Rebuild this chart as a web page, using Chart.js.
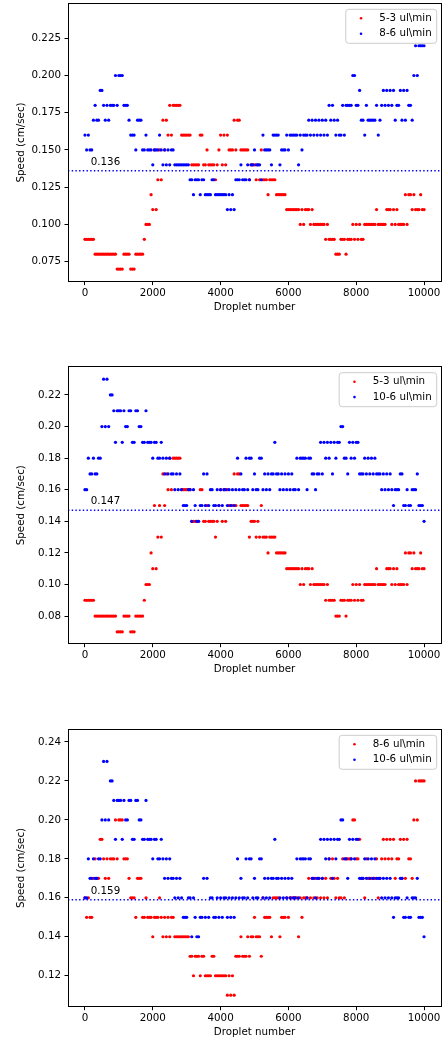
<!DOCTYPE html>
<html>
<head>
<meta charset="utf-8">
<title>Droplet speed</title>
<script src="https://cdn.jsdelivr.net/npm/chart.js@4.4.0/dist/chart.umd.min.js"></script>
<style>
  html, body { margin: 0; padding: 0; background: #fff; }
  body { width: 445px; height: 1040px; position: relative; overflow: hidden; }
  canvas { position: absolute; left: 0; }
</style>
</head>
<body>
<canvas id="panel1" width="445" height="330" style="top:-10px"></canvas>
<canvas id="panel2" width="445" height="345" style="top:340px"></canvas>
<canvas id="panel3" width="445" height="336" style="top:704px"></canvas>
<script>
// one sample every 50 droplets, 0 .. 10000
const dropletStep = 50;
const dropletTicks = [0, 2000, 4000, 6000, 8000, 10000];

const label53 = '5-3 ul\\min';
const label86 = '8-6 ul\\min';
const label106 = '10-6 ul\\min';

const speed53 = [
    0.09, 0.09, 0.09, 0.09, 0.09, 0.09, 0.08, 0.08, 0.08, 0.08, 0.08, 0.08, 0.08, 0.08, 0.08, 0.08, 0.08, 0.08, 0.08, 0.07,
    0.07, 0.07, 0.07, 0.08, 0.08, 0.08, 0.08, 0.07, 0.07, 0.07, 0.08, 0.08, 0.08, 0.08, 0.08, 0.09, 0.10, 0.10, 0.10, 0.12,
    0.11, 0.15, 0.11, 0.13, 0.15, 0.13, 0.17, 0.15, 0.17, 0.16, 0.18, 0.16, 0.18, 0.18, 0.18, 0.18, 0.18, 0.16, 0.16, 0.16,
    0.16, 0.16, 0.16, 0.14, 0.14, 0.14, 0.14, 0.14, 0.16, 0.16, 0.14, 0.14, 0.15, 0.14, 0.14, 0.14, 0.14, 0.13, 0.14, 0.15,
    0.16, 0.14, 0.16, 0.14, 0.16, 0.15, 0.15, 0.15, 0.17, 0.15, 0.17, 0.17, 0.15, 0.15, 0.15, 0.15, 0.15, 0.13, 0.14, 0.14,
    0.14, 0.13, 0.14, 0.13, 0.15, 0.13, 0.13, 0.13, 0.12, 0.13, 0.13, 0.13, 0.13, 0.12, 0.12, 0.12, 0.12, 0.12, 0.12, 0.11,
    0.11, 0.11, 0.11, 0.11, 0.11, 0.11, 0.11, 0.10, 0.11, 0.10, 0.11, 0.11, 0.11, 0.10, 0.11, 0.10, 0.10, 0.10, 0.10, 0.10,
    0.10, 0.10, 0.09, 0.10, 0.09, 0.09, 0.09, 0.09, 0.08, 0.08, 0.08, 0.09, 0.09, 0.09, 0.08, 0.09, 0.09, 0.09, 0.10, 0.09,
    0.10, 0.09, 0.10, 0.09, 0.09, 0.10, 0.10, 0.10, 0.10, 0.10, 0.10, 0.10, 0.11, 0.10, 0.10, 0.10, 0.10, 0.10, 0.11, 0.11,
    0.11, 0.10, 0.11, 0.10, 0.11, 0.10, 0.10, 0.10, 0.10, 0.12, 0.10, 0.12, 0.12, 0.11, 0.12, 0.11, 0.11, 0.11, 0.12, 0.11, 0.11
];

const speed86 = [
    0.16, 0.15, 0.16, 0.15, 0.15, 0.17, 0.18, 0.17, 0.17, 0.19, 0.19, 0.18, 0.17, 0.18, 0.17, 0.18, 0.18, 0.18, 0.20, 0.18,
    0.20, 0.20, 0.20, 0.18, 0.18, 0.18, 0.17, 0.16, 0.16, 0.16, 0.15, 0.17, 0.17, 0.17, 0.15, 0.15, 0.16, 0.15, 0.15, 0.15,
    0.14, 0.15, 0.15, 0.15, 0.16, 0.15, 0.14, 0.15, 0.14, 0.15, 0.14, 0.15, 0.15, 0.14, 0.14, 0.14, 0.14, 0.14, 0.14, 0.14,
    0.14, 0.14, 0.13, 0.13, 0.12, 0.13, 0.13, 0.13, 0.12, 0.13, 0.13, 0.12, 0.12, 0.12, 0.12, 0.13, 0.13, 0.12, 0.12, 0.12,
    0.12, 0.12, 0.12, 0.12, 0.11, 0.12, 0.11, 0.12, 0.11, 0.13, 0.13, 0.13, 0.14, 0.13, 0.13, 0.13, 0.14, 0.13, 0.14, 0.14,
    0.15, 0.14, 0.14, 0.14, 0.13, 0.16, 0.15, 0.15, 0.15, 0.15, 0.14, 0.16, 0.16, 0.16, 0.16, 0.14, 0.15, 0.15, 0.15, 0.16,
    0.15, 0.16, 0.16, 0.16, 0.16, 0.16, 0.14, 0.16, 0.15, 0.16, 0.16, 0.16, 0.17, 0.16, 0.17, 0.16, 0.17, 0.16, 0.17, 0.16,
    0.17, 0.16, 0.17, 0.16, 0.18, 0.17, 0.18, 0.17, 0.16, 0.17, 0.16, 0.16, 0.18, 0.16, 0.18, 0.18, 0.18, 0.18, 0.20, 0.20,
    0.18, 0.18, 0.19, 0.17, 0.17, 0.16, 0.18, 0.17, 0.17, 0.17, 0.17, 0.17, 0.18, 0.16, 0.17, 0.18, 0.19, 0.18, 0.19, 0.18,
    0.19, 0.18, 0.19, 0.17, 0.18, 0.18, 0.19, 0.17, 0.19, 0.17, 0.19, 0.18, 0.18, 0.17, 0.20, 0.22, 0.20, 0.22, 0.22, 0.22, 0.22
];

const speed106 = [
    0.16, 0.16, 0.18, 0.17, 0.17, 0.18, 0.17, 0.17, 0.18, 0.18, 0.20, 0.23, 0.20, 0.23, 0.20, 0.22, 0.22, 0.21, 0.19, 0.21,
    0.21, 0.21, 0.19, 0.21, 0.20, 0.20, 0.21, 0.21, 0.19, 0.19, 0.21, 0.21, 0.20, 0.20, 0.19, 0.19, 0.21, 0.19, 0.19, 0.19,
    0.18, 0.19, 0.19, 0.18, 0.18, 0.19, 0.18, 0.17, 0.18, 0.17, 0.18, 0.17, 0.17, 0.16, 0.17, 0.16, 0.17, 0.16, 0.15, 0.15,
    0.15, 0.16, 0.16, 0.14, 0.16, 0.15, 0.14, 0.14, 0.15, 0.15, 0.17, 0.15, 0.17, 0.15, 0.16, 0.16, 0.15, 0.15, 0.16, 0.15,
    0.16, 0.15, 0.16, 0.16, 0.15, 0.16, 0.15, 0.16, 0.15, 0.16, 0.18, 0.16, 0.17, 0.16, 0.16, 0.18, 0.16, 0.18, 0.18, 0.16,
    0.17, 0.16, 0.16, 0.18, 0.18, 0.16, 0.17, 0.16, 0.17, 0.16, 0.17, 0.17, 0.19, 0.17, 0.17, 0.16, 0.17, 0.16, 0.17, 0.16,
    0.17, 0.16, 0.17, 0.16, 0.16, 0.18, 0.16, 0.18, 0.18, 0.18, 0.18, 0.16, 0.18, 0.18, 0.17, 0.17, 0.16, 0.17, 0.17, 0.19,
    0.17, 0.19, 0.18, 0.19, 0.18, 0.19, 0.17, 0.19, 0.18, 0.19, 0.19, 0.20, 0.20, 0.18, 0.18, 0.17, 0.19, 0.18, 0.19, 0.18,
    0.19, 0.19, 0.17, 0.17, 0.17, 0.18, 0.17, 0.18, 0.17, 0.18, 0.17, 0.18, 0.17, 0.17, 0.17, 0.16, 0.17, 0.16, 0.17, 0.16,
    0.17, 0.16, 0.15, 0.16, 0.16, 0.16, 0.17, 0.17, 0.15, 0.15, 0.16, 0.15, 0.15, 0.16, 0.16, 0.16, 0.17, 0.15, 0.15, 0.15, 0.14
];

const meanSpeeds = [0.136, 0.147, 0.159];

const yTicks1 = [0.075, 0.100, 0.125, 0.150, 0.175, 0.200, 0.225];
const yTicks2 = [0.08, 0.10, 0.12, 0.14, 0.16, 0.18, 0.20, 0.22];
const yTicks3 = [0.12, 0.14, 0.16, 0.18, 0.20, 0.22, 0.24];

const fontFamily = '"DejaVu Sans", "Liberation Sans", sans-serif';
const fontSize = 10.3;
const xAxisHeight = 33;
const meanLabelDroplet = 170;

// top/bottom = plot box edges inside each canvas
const panels = [
    { id: 'panel1', red: speed53, blue: speed86, redLabel: label53, blueLabel: label86, mean: meanSpeeds[0],
      ticks: yTicks1, decimals: 3, yMin: 0.0616, yMax: 0.2485, top: 13.3, bottom: 291.6 },
    { id: 'panel2', red: speed53, blue: speed106, redLabel: label53, blueLabel: label106, mean: meanSpeeds[1],
      ticks: yTicks2, decimals: 2, yMin: 0.0625, yMax: 0.2379, top: 26.7, bottom: 303.7 },
    { id: 'panel3', red: speed86, blue: speed106, redLabel: label86, blueLabel: label106, mean: meanSpeeds[2],
      ticks: yTicks3, decimals: 2, yMin: 0.1041, yMax: 0.2465, top: 25.3, bottom: 302.7 }
];

function toPoints(values) {
    return values.map((v, i) => ({ x: i * dropletStep, y: v }));
}

function meanAndFramePlugin(mean) {
    return {
        id: 'meanAndFrame',
        afterDatasetsDraw(chart) {
            const { ctx, chartArea } = chart;
            const y = chart.scales.y.getPixelForValue(mean);
            ctx.save();
            ctx.beginPath();
            ctx.strokeStyle = '#0000ff';
            ctx.lineWidth = 1.4;
            ctx.setLineDash([1.4, 2.3]);
            ctx.moveTo(chartArea.left, y);
            ctx.lineTo(chartArea.right, y);
            ctx.stroke();
            ctx.setLineDash([]);

            ctx.font = `${fontSize}px ${fontFamily}`;
            ctx.fillStyle = '#000';
            ctx.textAlign = 'left';
            ctx.textBaseline = 'middle';
            ctx.fillText(mean.toFixed(3), chart.scales.x.getPixelForValue(meanLabelDroplet), y - 8.7);

            // matplotlib style box around the plot
            const l = Math.floor(chartArea.left) + 0.5;
            const t = Math.floor(chartArea.top) + 0.5;
            const r = Math.floor(chartArea.right) + 0.5;
            const b = Math.floor(chartArea.bottom) + 0.5;
            ctx.strokeStyle = '#000';
            ctx.lineWidth = 1;
            ctx.strokeRect(l, t, r - l, b - t);
            ctx.restore();
        }
    };
}

const boxLegend = {
    id: 'boxLegend',
    afterDraw(chart) {
        const { ctx, chartArea } = chart;
        const items = chart.data.datasets.map((ds) => ({ text: ds.label, color: ds.backgroundColor }));
        ctx.save();
        ctx.font = `${fontSize}px ${fontFamily}`;
        const textW = Math.max(...items.map((it) => ctx.measureText(it.text).width));
        const w = 33.6 + textW + 5;
        const h = 34;
        const x = chartArea.right - 4.3 - w;
        const y = chartArea.top + 6;
        ctx.beginPath();
        ctx.roundRect(x, y, w, h, 3);
        ctx.fillStyle = 'rgba(255,255,255,0.8)';
        ctx.fill();
        ctx.strokeStyle = '#cccccc';
        ctx.lineWidth = 1;
        ctx.stroke();
        items.forEach((it, i) => {
            const cy = y + 9 + i * 15.4;
            ctx.beginPath();
            ctx.arc(x + 15.3, cy, 1.3, 0, Math.PI * 2);
            ctx.fillStyle = it.color;
            ctx.fill();
            ctx.fillStyle = '#000';
            ctx.textAlign = 'left';
            ctx.textBaseline = 'middle';
            ctx.fillText(it.text, x + 33.6, cy);
        });
        ctx.restore();
    }
};

function buildPanel(panel) {
    const canvas = document.getElementById(panel.id);
    const font = { family: fontFamily, size: fontSize };
    const tickGrid = { drawOnChartArea: false, drawTicks: true, tickLength: 3.5, color: '#000', lineWidth: 1 };
    return new Chart(canvas, {
        type: 'scatter',
        data: {
            datasets: [
                { label: panel.redLabel, data: toPoints(panel.red), backgroundColor: '#ff0000', order: 2 },
                { label: panel.blueLabel, data: toPoints(panel.blue), backgroundColor: '#0000ff', order: 1 }
            ]
        },
        options: {
            responsive: false,
            animation: false,
            devicePixelRatio: 1,
            events: [],
            layout: { padding: { top: panel.top, right: 4, bottom: canvas.height - panel.bottom - xAxisHeight, left: 0 } },
            elements: { point: { radius: 1.6, hoverRadius: 1.6, borderWidth: 0 } },
            plugins: { legend: { display: false }, tooltip: { enabled: false } },
            scales: {
                x: {
                    type: 'linear',
                    min: -500,
                    max: 10500,
                    afterBuildTicks: (scale) => { scale.ticks = dropletTicks.map((v) => ({ value: v })); },
                    afterFit: (scale) => { scale.height = xAxisHeight; },
                    ticks: { font, color: '#000', padding: 2, autoSkip: false, maxRotation: 0, callback: (v) => String(v) },
                    grid: tickGrid,
                    border: { display: false },
                    title: { display: true, text: 'Droplet number', font, color: '#000', padding: { top: 0, bottom: 1.1 } }
                },
                y: {
                    type: 'linear',
                    min: panel.yMin,
                    max: panel.yMax,
                    afterBuildTicks: (scale) => { scale.ticks = panel.ticks.map((v) => ({ value: v })); },
                    afterFit: (scale) => { scale.width = 68; },
                    ticks: { font, color: '#000', padding: 3.5, callback: (v) => Number(v).toFixed(panel.decimals) },
                    grid: tickGrid,
                    border: { display: false },
                    title: { display: true, text: 'Speed (cm/sec)', font, color: '#000', padding: { top: 15.3, bottom: 0 } }
                }
            }
        },
        plugins: [meanAndFramePlugin(panel.mean), boxLegend]
    });
}

panels.forEach(buildPanel);
</script>
</body>
</html>
